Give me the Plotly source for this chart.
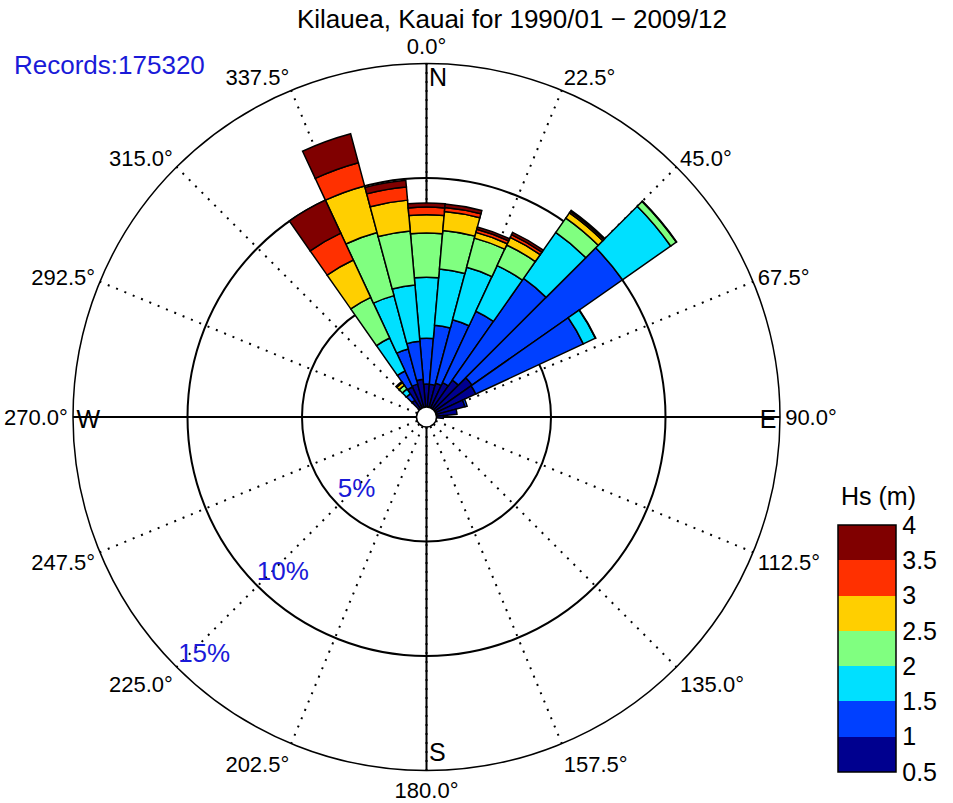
import plotly.graph_objects as go

# ---------------- data ----------------
directions = list(range(0, 360, 10))          # bin centres (deg, clockwise from N)
hs_labels = ["0.5-1", "1-1.5", "1.5-2", "2-2.5", "2.5-3", "3-3.5", "3.5-4"]
hs_mid = [0.75, 1.25, 1.75, 2.25, 2.75, 3.25, 3.75]
hs_colors = ["#00008F", "#0040FF", "#00E0FF", "#80FF80", "#FFCF00", "#FF3000", "#800000"]
hs_ticks = [0.5, 1, 1.5, 2, 2.5, 3, 3.5, 4]
hs_ticktext = ["0.5", "1", "1.5", "2", "2.5", "3", "3.5", "4"]

# percent of records, per direction bin (0,10,...,350) and Hs class
#             0     10    20    30    40    50    60    70   80   90 100..310 (22 zeros)  320   330   340   350
pct_05_1 = [1.00, 1.00, 1.09, 1.22, 1.53, 1.99, 1.94, 1.30, 0.90, 0.30] + [0]*22 + [0.45, 1.01, 1.05, 1.22]
pct_1_15 = [2.00, 2.59, 2.87, 3.44, 5.42, 8.02, 5.18, 0.10, 0, 0] + [0]*22 + [0.35, 0.77, 1.59, 1.66]
pct_15_2 = [2.67, 2.46, 2.37, 2.20, 2.45, 2.57, 0.58, 0, 0, 0] + [0]*22 + [0.25, 1.59, 2.41, 2.47]
pct_2_25 = [1.93, 1.69, 1.32, 0.99, 0.77, 0.30, 0.02, 0, 0, 0] + [0]*22 + [0.20, 1.96, 2.85, 2.37]
pct_25_3 = [0.80, 0.83, 0.26, 0.37, 0.28, 0.02, 0, 0, 0, 0] + [0]*22 + [0.15, 1.80, 2.11, 1.35]
pct_3_35 = [0.33, 0.18, 0.14, 0.13, 0.07, 0, 0, 0, 0, 0] + [0]*22 + [0.05, 1.29, 1.05, 0.58]
pct_35_4 = [0.18, 0.15, 0.10, 0.11, 0.06, 0, 0, 0, 0, 0] + [0]*22 + [0, 1.59, 1.31, 0.29]
series = [pct_05_1, pct_1_15, pct_15_2, pct_2_25, pct_25_3, pct_3_35, pct_35_4]

angle_ticks = [i * 22.5 for i in range(16)]
angle_ticktext = [f"{a:.1f}°" for a in angle_ticks]
ring_vals = [5, 10, 15]
ring_text = ["5%", "10%", "15%"]
cardinal_theta = [0, 90, 180, 270]
cardinal_text = ["N", "E", "S", "W"]
title_text = "Kilauea, Kauai for 1990/01 \u2212 2009/12"
records_text = "Records:175320"

# ---------------- layout constants ----------------
OFF = 0                      # body margin is removed by the post script below
W, H = 953 - OFF, 803 - OFF


def fx(px):
    return (px - OFF) / W


def fy(py):
    return 1 - (py - OFF) / H


cx, cy, R = 426.5, 417, 353.5
dom_x = [fx(cx - R), fx(cx + R)]
dom_y = [fy(cy + R), fy(cy - R)]
hole = 10 / R
FONT = "Liberation Sans, Arial, sans-serif"
BLUE = "#1a1ad8"

fig = go.Figure()

# discrete colour scale for Hs
n = len(hs_colors)
cscale = []
for i, c in enumerate(hs_colors):
    cscale.append([i / n, c])
    cscale.append([(i + 1) / n, c])

# bottom polar: solid cardinal lines only
fig.add_trace(go.Scatterpolar(r=[0], theta=[0], mode="markers", marker=dict(opacity=0),
                              hoverinfo="skip", showlegend=False, subplot="polar"))

# stacked bars
for lab, mid, vals in zip(hs_labels, hs_mid, series):
    th = [d for d, v in zip(directions, vals) if v > 0]
    rr = [v for v in vals if v > 0]
    fig.add_trace(go.Barpolar(
        r=rr, theta=th, width=[10] * len(rr), name=lab,
        marker=dict(color=[mid] * len(rr), coloraxis="coloraxis",
                    line=dict(color="black", width=1.5)),
        showlegend=False, subplot="polar2"))

# ring labels
fig.add_trace(go.Scatterpolar(
    r=[4.0, 8.85, 13.8], theta=[223.5, 222.5, 223], mode="text", text=ring_text,
    textfont=dict(family=FONT, size=26, color=BLUE), textposition="middle center",
    hoverinfo="skip", showlegend=False, subplot="polar2"))

# cardinal letters
fig.add_trace(go.Scatterpolar(
    r=[14.85, 14.85, 14.85, 14.85], theta=[0.4, 88.8, 179.6, 271.2], mode="text",
    text=cardinal_text,
    textfont=dict(family=FONT, size=25, color="black"),
    textposition=["bottom right", "bottom left", "top right", "bottom right"],
    hoverinfo="skip", showlegend=False, subplot="polar2"))

common_ang = dict(rotation=90, direction="clockwise")

fig.update_layout(
    width=W, height=H,
    margin=dict(l=0, r=0, t=0, b=0, autoexpand=False),
    paper_bgcolor="white",
    title=dict(text=title_text, x=fx(512), xanchor="center", y=fy(19), yanchor="middle",
               font=dict(family=FONT, size=26, color="black")),
    polar=dict(
        domain=dict(x=dom_x, y=dom_y), hole=hole, bgcolor="white",
        angularaxis=dict(**common_ang, tickmode="array", tickvals=cardinal_theta,
                         showticklabels=False, ticks="", showgrid=True,
                         gridcolor="black", gridwidth=1.5, showline=False),
        radialaxis=dict(visible=False, range=[0, 15]),
    ),
    polar2=dict(
        domain=dict(x=dom_x, y=dom_y), hole=hole, bgcolor="rgba(0,0,0,0)",
        barmode="stack", bargap=0,
        angularaxis=dict(**common_ang, tickmode="array", tickvals=angle_ticks,
                         ticktext=angle_ticktext, ticks="",
                         tickfont=dict(family=FONT, size=22, color="black"),
                         showgrid=True, gridcolor="black", gridwidth=1.5, griddash="2px,7px",
                         showline=True, linecolor="black", linewidth=1.5),
        radialaxis=dict(range=[0, 15], tickmode="array", tickvals=ring_vals,
                        showticklabels=False, ticks="", showline=False,
                        showgrid=True, gridcolor="black", gridwidth=1.5),
    ),
    coloraxis=dict(
        colorscale=cscale, cmin=hs_ticks[0], cmax=hs_ticks[-1],
        colorbar=dict(
            x=fx(838), xanchor="left", xpad=0,
            y=fy(772), yanchor="bottom", ypad=0,
            thickness=58, thicknessmode="pixels",
            len=247, lenmode="pixels",
            tickmode="array", tickvals=hs_ticks, ticktext=hs_ticktext, ticks="",
            tickfont=dict(family=FONT, size=25, color="black"),
            outlinecolor="black", outlinewidth=1.5,
        ),
    ),
    annotations=[
        dict(text=records_text, x=fx(12), y=fy(65), xref="paper", yref="paper",
             xanchor="left", yanchor="middle", showarrow=False,
             font=dict(family=FONT, size=26, color=BLUE)),
        dict(text="Hs (m)", x=fx(878), y=fy(496), xref="paper", yref="paper",
             xanchor="center", yanchor="middle", showarrow=False,
             font=dict(family=FONT, size=25, color="black")),
    ],
)

# separator lines inside the colorbar
cb_x0, cb_x1 = fx(838), fx(838 + 58)
cb_bot, cb_top = 772, 772 - 247
step = (cb_bot - cb_top) / n
for k in range(1, n):
    yy = fy(cb_bot - k * step)
    fig.add_shape(type="line", xref="paper", yref="paper", x0=cb_x0, x1=cb_x1, y0=yy, y1=yy,
                  line=dict(color="black", width=1.5))

fig.write_html("out.html", config={"displayModeBar": False},
               post_script="document.body.style.margin='0';document.body.style.overflow='hidden';")
